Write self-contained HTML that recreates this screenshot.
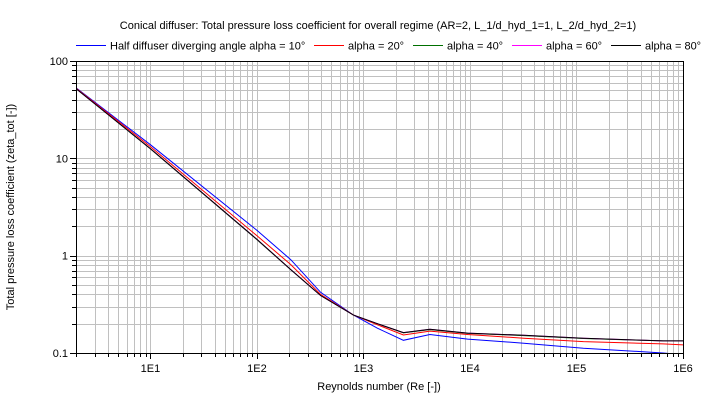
<!DOCTYPE html>
<html><head><meta charset="utf-8"><style>
body{margin:0;background:#fff;}
svg{display:block;font-family:"Liberation Sans",sans-serif;}
</style></head><body>
<svg id="chart" width="708" height="403">
<text x="378" y="29" font-size="11" text-anchor="middle">Conical diffuser: Total pressure loss coefficient for overall regime (AR=2, L_1/d_hyd_1=1, L_2/d_hyd_2=1)</text>
<g id="legend"></g>
<g id="grid"></g>
<g id="series"></g>
<g id="axes"></g>
<text x="379" y="390" font-size="11" text-anchor="middle">Reynolds number (Re [-])</text>
<text transform="translate(14,207) rotate(-90)" font-size="11" text-anchor="middle">Total pressure loss coefficient (zeta_tot [-])</text>
</svg>
<script>
const reValues=[2,10,100,208,396,807,1350,2370,4200,9500,32000,116000,650000,1000000];
const zetaA10=[53,13.8,1.82,0.91,0.42,0.245,0.18,0.135,0.155,0.139,0.126,0.112,0.1,0.096];
const zetaA20=[52.5,13.2,1.6,0.81,0.40,0.245,0.195,0.153,0.168,0.155,0.142,0.131,0.124,0.121];
const zetaA40=[52,12.5,1.46,0.715,0.39,0.245,0.2,0.161,0.174,0.159,0.151,0.141,0.133,0.133];
const zetaA60=[52,12.6,1.47,0.72,0.39,0.245,0.2,0.162,0.175,0.16,0.152,0.142,0.133,0.133];
const zetaA80=[52,12.6,1.47,0.72,0.39,0.245,0.2,0.162,0.175,0.16,0.152,0.142,0.133,0.133];
const seriesNames=["Half diffuser diverging angle alpha = 10°","alpha = 20°","alpha = 40°","alpha = 60°","alpha = 80°"];
const seriesColors=["#0000ff","#ff0000","#007000","#ff00ff","#000000"];
const xTickLabels=["1E1","1E2","1E3","1E4","1E5","1E6"];
const yTickLabels=["0.1","1","10","100"];
const X0=76,X1=683,Y0=61,Y1=353,xmin=2,xmax=1e6,ymin=0.1,ymax=100;
const NS="http://www.w3.org/2000/svg";
function xs(v){return X0+(Math.log10(v)-Math.log10(xmin))/(Math.log10(xmax)-Math.log10(xmin))*(X1-X0);}
function ys(v){return Y1-(Math.log10(v)-Math.log10(ymin))/(Math.log10(ymax)-Math.log10(ymin))*(Y1-Y0);}
function mk(t,a,p){const e=document.createElementNS(NS,t);for(const k in a)e.setAttribute(k,a[k]);p.appendChild(e);return e;}
const grid=document.getElementById('grid'),axes=document.getElementById('axes'),ser=document.getElementById('series'),leg=document.getElementById('legend');
for(let d=0;d<=6;d++){for(let m=1;m<=9;m++){const v=m*Math.pow(10,d);if(v<xmin||v>xmax)continue;const x=Math.round(xs(v))+0.5;
const l=mk('line',{x1:x,x2:x,y1:Y0,y2:Y1,stroke:'#c0c0c0','stroke-width':1},grid);


const t=mk('line',{x1:x,x2:x,y1:Y1,y2:Y1+(m==1?6:4),stroke:'#000'},axes);

}}
for(let d=-1;d<=2;d++){for(let m=1;m<=9;m++){const v=m*Math.pow(10,d);if(v<ymin||v>ymax)continue;const y=Math.round(ys(v))+0.5;
const l=mk('line',{x1:X0,x2:X1,y1:y,y2:y,stroke:'#c0c0c0','stroke-width':1},grid);


const t=mk('line',{x1:X0-(m==1?6:4),x2:X0,y1:y,y2:y,stroke:'#000'},axes);

}}
const box=mk('rect',{x:X0+0.5,y:Y0+0.5,width:X1-X0,height:Y1-Y0,fill:'none',stroke:'#000','stroke-width':1},axes);


xTickLabels.forEach((s,i)=>{const t=mk('text',{x:xs(Math.pow(10,i+1)),y:Y1+19,'font-size':11,'text-anchor':'middle'},axes);t.textContent=s;

});
yTickLabels.forEach((s,i)=>{const t=mk('text',{x:X0-8,y:ys(Math.pow(10,i-1))+4,'font-size':11,'text-anchor':'end'},axes);t.textContent=s;

});
const cp=mk('clipPath',{id:'cp'},ser);mk('rect',{x:X0,y:Y0,width:X1-X0,height:Y1-Y0},cp);
const all=[zetaA10,zetaA20,zetaA40,zetaA60,zetaA80];
[0,1,2,3,4].forEach(i=>{const d=reValues.map((r,j)=>(j?'L':'M')+xs(r).toFixed(1)+','+ys(all[i][j]).toFixed(1)).join(' ');
const p=mk('path',{d:d,fill:'none',stroke:seriesColors[i],'stroke-width':1,'clip-path':'url(#cp)'},ser);

});
const legX=[76,314,413,512,611];
seriesNames.forEach((s,i)=>{
const l=mk('line',{x1:legX[i],x2:legX[i]+30,y1:45.5,y2:45.5,stroke:seriesColors[i]},leg);


const t=mk('text',{x:legX[i]+34,y:49.5,'font-size':11},leg);t.textContent=s;

});
</script>
</body></html>
